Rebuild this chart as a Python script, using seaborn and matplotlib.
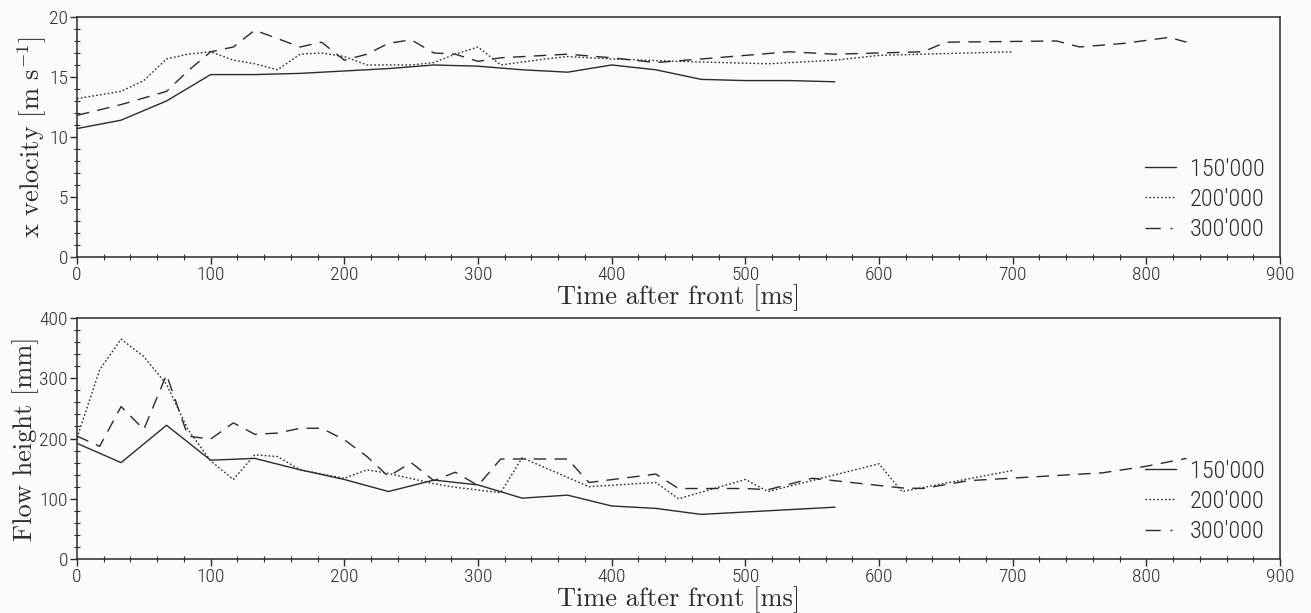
import matplotlib
matplotlib.use("Agg")
import matplotlib.pyplot as plt
from matplotlib import font_manager
from matplotlib.lines import Line2D
from matplotlib.ticker import MultipleLocator
import seaborn as sns
import pandas as pd

# ---------------- data ----------------
labels = ["150'000", "200'000", "300'000"]

vel_t_150 = [0, 33, 67, 100, 133, 167, 200, 233, 267, 300, 333, 367, 400, 433, 467, 500, 533, 567]
vel_v_150 = [10.7, 11.4, 13.0, 15.2, 15.2, 15.3, 15.5, 15.7, 16.0, 15.9, 15.6, 15.4, 16.0, 15.6, 14.8, 14.7, 14.7, 14.6]

vel_t_200 = [0, 33, 50, 67, 83, 100, 117, 133, 150, 167, 183, 200, 217, 250, 267, 283, 300, 317,
             350, 367, 400, 450, 517, 567, 600, 633, 700]
vel_v_200 = [13.2, 13.8, 14.7, 16.5, 16.9, 17.1, 16.4, 16.1, 15.6, 16.9, 17.0, 16.7, 16.0, 16.0, 16.2, 16.9, 17.5, 16.0,
             16.5, 16.7, 16.5, 16.3, 16.1, 16.4, 16.8, 16.9, 17.1]

vel_t_300 = [0, 33, 67, 83, 100, 117, 133, 150, 167, 183, 200, 217, 233, 250, 267, 283, 300, 317,
             367, 400, 433, 467, 533, 567, 600, 633, 650, 733, 750, 783, 817, 830]
vel_v_300 = [11.8, 12.7, 13.8, 15.5, 17.1, 17.5, 18.9, 18.2, 17.5, 17.9, 16.4, 16.9, 17.8, 18.1, 17.0, 16.9, 16.3, 16.6,
             16.9, 16.6, 16.2, 16.5, 17.1, 16.9, 17.0, 17.1, 17.9, 18.0, 17.5, 17.8, 18.3, 17.9]

h_t_150 = [0, 33, 67, 100, 133, 167, 200, 233, 267, 300, 333, 367, 400, 433, 467, 500, 567]
h_v_150 = [192, 160, 222, 164, 167, 148, 132, 112, 131, 123, 101, 106, 88, 84, 74, 78, 86]

h_t_200 = [0, 17, 33, 50, 67, 83, 100, 117, 133, 150, 167, 200, 217, 233, 267, 283, 317, 333,
           383, 433, 450, 500, 517, 600, 617, 700]
h_v_200 = [201, 314, 365, 336, 290, 215, 163, 132, 173, 170, 148, 134, 148, 142, 125, 119, 110, 168,
           120, 127, 100, 132, 112, 158, 112, 147]

h_t_300 = [0, 17, 33, 50, 67, 83, 100, 117, 133, 150, 167, 183, 200, 217, 233, 250, 267, 283, 300,
           317, 367, 383, 433, 450, 500, 517, 550, 600, 617, 633, 667, 767, 800, 830]
h_v_300 = [204, 187, 253, 215, 306, 204, 199, 226, 207, 209, 217, 217, 198, 170, 137, 160, 130, 144, 122,
           166, 166, 127, 141, 117, 117, 115, 134, 122, 118, 117, 130, 143, 154, 167]

x_label = "Time after front [ms]"
y_label_top = r"x velocity [m s$^{-1}$]"
y_label_bot = "Flow height [mm]"

# ---------------- style ----------------
sns.set_style("ticks")
avail = {f.name for f in font_manager.fontManager.ttflist}
sans, sans_weight = "Liberation Sans", "normal"
for cand, w in [("Roboto Condensed", "light"), ("Liberation Sans Narrow", "normal"),
                ("Open Sans Condensed", "light"), ("Roboto", "light")]:
    if cand in avail:
        sans, sans_weight = cand, w
        break
serif = "cmr10" if "cmr10" in avail else "DejaVu Serif"
plt.rcParams["font.family"] = [sans, "DejaVu Sans"]
plt.rcParams["font.weight"] = sans_weight
plt.rcParams["mathtext.fontset"] = "cm"
plt.rcParams["axes.unicode_minus"] = False

ink = "#2b2b2b"
bg = "#fbfbfa"

fig = plt.figure(figsize=(13.11, 6.13), dpi=100, facecolor=bg)
ax1 = fig.add_axes([0.0587, 0.5808, 0.9177, 0.3915])
ax2 = fig.add_axes([0.0587, 0.0881, 0.9177, 0.3931])

styles = [dict(linestyle="-"), dict(linestyle=":"), dict(linestyle="--")]
dash_300 = (9, 6)
dot_200 = (1.2, 1.6)

def draw(ax, series, ylim, ymaj, ymin, ylabel):
    ax.set_facecolor(bg)
    for (t, v), st in zip(series, styles):
        df = pd.DataFrame({"t": t, "v": v})
        sns.lineplot(data=df, x="t", y="v", ax=ax, color=ink, lw=1.0, **st)
        ln = ax.lines[-1]
        if st["linestyle"] == "--":
            ln.set_dashes(dash_300)
        elif st["linestyle"] == ":":
            ln.set_dashes(dot_200)
    ax.set_xlim(0, 900)
    ax.set_ylim(*ylim)
    ax.xaxis.set_major_locator(MultipleLocator(100))
    ax.xaxis.set_minor_locator(MultipleLocator(20))
    ax.yaxis.set_major_locator(MultipleLocator(ymaj))
    ax.yaxis.set_minor_locator(MultipleLocator(ymin))
    ax.tick_params(which="major", direction="out", length=5, width=1, colors=ink,
                   labelsize=14, pad=1.5)
    ax.tick_params(which="minor", direction="inout", length=4, width=0.8, colors=ink)
    for sp in ax.spines.values():
        sp.set_visible(True)
        sp.set_color(ink)
        sp.set_linewidth(1.1)
    ax.set_xlabel(x_label, family=serif, fontsize=19, color=ink, labelpad=0, weight="normal")
    ax.set_ylabel(ylabel, family=serif, fontsize=19, color=ink, labelpad=0, weight="normal")
    handles = [Line2D([], [], color=ink, lw=1.0, linestyle="-"),
               Line2D([], [], color=ink, lw=1.0, dashes=dot_200),
               Line2D([], [], color=ink, lw=1.0, dashes=(11, 7, 1.5, 30))]
    leg = ax.legend(handles, labels, loc="lower right", frameon=False, fontsize=17.5,
                    handlelength=1.3, handletextpad=0.55, labelspacing=0.3,
                    borderaxespad=0.25)
    for txt in leg.get_texts():
        txt.set_color(ink)

draw(ax1, [(vel_t_150, vel_v_150), (vel_t_200, vel_v_200), (vel_t_300, vel_v_300)],
     (0, 20), 5, 1, y_label_top)
draw(ax2, [(h_t_150, h_v_150), (h_t_200, h_v_200), (h_t_300, h_v_300)],
     (0, 400), 100, 20, y_label_bot)

fig.savefig("out.png", dpi=100, facecolor=bg)
